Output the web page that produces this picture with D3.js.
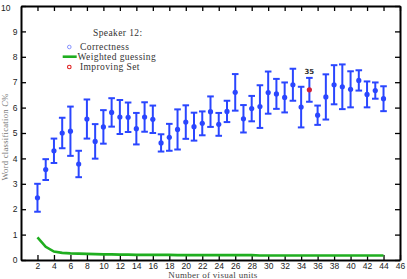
<!DOCTYPE html>
<html>
<head>
<meta charset="utf-8">
<script src="https://cdn.jsdelivr.net/npm/d3@7"></script>
<style>
  body { margin: 0; background: #fff; }
  .tick text { font-family: "Liberation Sans", Arial, sans-serif; font-size: 8.5px; fill: #222; }
  .serif { font-family: "Liberation Serif", "DejaVu Serif", serif; }
</style>
</head>
<body>
<div id="chart"></div>
<script>
// 可视单元数
const units = [2,3,4,5,6,7,8,9,10,11,12,13,14,15,16,17,18,19,20,21,22,23,24,25,26,27,28,29,30,31,32,33,34,35,36,37,38,39,40,41,42,43,44];
// 正确率（均值）
const correctness = [2.45,3.56,4.30,5.00,5.07,3.78,5.55,4.67,5.24,5.81,5.63,5.62,5.17,5.63,5.54,4.61,4.83,5.14,5.43,5.25,5.38,5.84,5.34,5.85,6.60,5.56,5.96,6.04,6.59,6.54,6.40,6.90,6.02,6.70,5.70,6.42,6.90,6.82,6.72,7.07,6.52,6.67,6.35];
// 误差
const errors = [0.55,0.41,0.48,0.60,0.97,0.52,0.77,0.68,0.66,0.56,0.67,0.58,0.62,0.58,0.54,0.34,0.53,0.79,0.66,0.55,0.47,0.60,0.45,0.42,0.72,0.54,0.50,0.84,0.83,0.59,0.59,0.63,0.80,0.47,0.38,0.89,0.77,0.88,0.71,0.40,0.51,0.32,0.49];
// 加权猜测
const guessing = [0.89,0.52,0.33,0.28,0.26,0.25,0.24,0.23,0.22,0.22,0.21,0.21,0.20,0.20,0.20,0.20,0.20,0.19,0.19,0.19,0.19,0.19,0.19,0.19,0.19,0.19,0.19,0.18,0.18,0.18,0.18,0.18,0.18,0.18,0.18,0.18,0.18,0.18,0.18,0.18,0.18,0.18,0.18];
const improving = 35;
const xTicks = d3.range(2, 47, 2);
const yTicks = d3.range(0, 11, 1);

const W = 407, H = 279;
const margin = {top: 6, right: 7, bottom: 19, left: 21};
const width = W - margin.left - margin.right;
const height = H - margin.top - margin.bottom;

const svg = d3.select("#chart").append("svg")
    .attr("width", W).attr("height", H);
const g = svg.append("g").attr("transform", `translate(${margin.left},${margin.top})`);

const x = d3.scaleLinear().domain([0, 46]).range([0, width]);
const y = d3.scaleLinear().domain([0, 10]).range([height, 0]);

// 坐标轴（刻度朝内）
const axBottom = g.append("g").attr("transform", `translate(0,${height})`)
    .call(d3.axisBottom(x).tickValues(xTicks).tickSizeInner(-5).tickSizeOuter(0).tickPadding(3));
const axTop = g.append("g")
    .call(d3.axisTop(x).tickValues(xTicks).tickSizeInner(-5).tickSizeOuter(0).tickFormat(""));
const axLeft = g.append("g")
    .call(d3.axisLeft(y).tickValues(yTicks).tickSizeInner(-5).tickSizeOuter(0).tickPadding(3.5));
const axRight = g.append("g").attr("transform", `translate(${width},0)`)
    .call(d3.axisRight(y).tickValues(yTicks).tickSizeInner(-5).tickSizeOuter(0).tickFormat(""));
[axBottom, axTop, axLeft, axRight].forEach(a => {
    a.select(".domain").attr("stroke", "#000").attr("stroke-width", 2);
    a.selectAll(".tick line").attr("stroke", "#000").attr("stroke-width", 1.3);
});
// 顶端的 10 靠左放
axLeft.selectAll(".tick text").filter(d => d === 10)
    .attr("text-anchor", "start").attr("x", -20).attr("dy", "0.5em");

// 加权猜测曲线
g.append("path")
    .datum(units.map((u, i) => [u, guessing[i]]))
    .attr("fill", "none")
    .attr("stroke", "#1fae1f")
    .attr("stroke-width", 2.6)
    .attr("d", d3.line().x(d => x(d[0])).y(d => y(d[1])));

// 误差棒
const blue = "#2a46ff";
const bars = g.append("g").selectAll("g").data(units).enter().append("g");
bars.append("line")
    .attr("x1", d => x(d)).attr("x2", d => x(d))
    .attr("y1", (d, i) => y(correctness[i] + errors[i]))
    .attr("y2", (d, i) => y(correctness[i] - errors[i]))
    .attr("stroke", blue).attr("stroke-width", 2);
bars.append("line")
    .attr("x1", d => x(d) - 3.3).attr("x2", d => x(d) + 3.3)
    .attr("y1", (d, i) => y(correctness[i] + errors[i]))
    .attr("y2", (d, i) => y(correctness[i] + errors[i]))
    .attr("stroke", blue).attr("stroke-width", 2);
bars.append("line")
    .attr("x1", d => x(d) - 3.3).attr("x2", d => x(d) + 3.3)
    .attr("y1", (d, i) => y(correctness[i] - errors[i]))
    .attr("y2", (d, i) => y(correctness[i] - errors[i]))
    .attr("stroke", blue).attr("stroke-width", 2);
bars.append("circle")
    .attr("cx", d => x(d))
    .attr("cy", (d, i) => y(correctness[i]))
    .attr("r", 2.6)
    .attr("fill", d => d === improving ? "#d0203a" : blue);

// 改进集标注
const iIdx = units.indexOf(improving);
g.append("text")
    .attr("x", x(improving)).attr("y", y(correctness[iIdx] + errors[iIdx]) - 4)
    .attr("text-anchor", "middle")
    .style("font-family", "DejaVu Sans, sans-serif").style("font-size", "7px")
    .style("font-weight", "bold").attr("fill", "#333")
    .text(improving);

// 图例
const lg = svg.append("g").attr("class", "serif").style("font-size", "9.5px")
    .style("letter-spacing", "0.4px").attr("fill", "#333");
lg.append("text").attr("x", 93).attr("y", 35.5).text("Speaker 12:");
lg.append("circle").attr("cx", 69.3).attr("cy", 47).attr("r", 1.8)
    .attr("fill", "none").attr("stroke", "#7a88ff").attr("stroke-width", 0.9);
lg.append("text").attr("x", 80).attr("y", 50).text("Correctness");
lg.append("line").attr("x1", 62.7).attr("x2", 76.7).attr("y1", 56.7).attr("y2", 56.7)
    .attr("stroke", "#1fae1f").attr("stroke-width", 2.6);
lg.append("text").attr("x", 77.5).attr("y", 59.7).text("Weighted guessing");
lg.append("circle").attr("cx", 69.3).attr("cy", 67).attr("r", 1.8)
    .attr("fill", "none").attr("stroke", "#e02020").attr("stroke-width", 1.1);
lg.append("text").attr("x", 80).attr("y", 70).text("Improving Set");

// 轴标题
svg.append("text").attr("class", "serif")
    .attr("x", 213).attr("y", 277.5)
    .attr("text-anchor", "middle").style("font-size", "9px")
    .style("letter-spacing", "0.3px").attr("fill", "#444")
    .text("Number of visual units");
const yl = svg.append("text").attr("class", "serif")
    .attr("transform", "translate(8,137) rotate(-90)")
    .attr("text-anchor", "middle").style("font-size", "8.5px")
    .style("letter-spacing", "0.3px").attr("fill", "#777");
yl.append("tspan").text("Word classification ");
yl.append("tspan").style("font-style", "italic").text("C");
yl.append("tspan").text("%");
</script>
</body>
</html>
